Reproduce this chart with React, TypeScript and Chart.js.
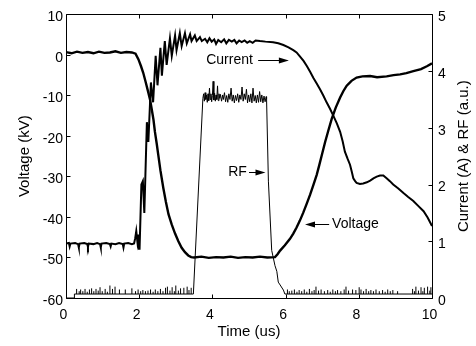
import React, { useEffect, useRef } from "react";
import { Chart, registerables } from "chart.js";

Chart.register(...registerables);

// ---------- tick labels ----------
const X_TICKS = [0, 2, 4, 6, 8, 10];
const VOLT_TICKS = [-60, -50, -40, -30, -20, -10, 0, 10];
const CURR_TICKS = [0, 1, 2, 3, 4, 5];

const X_TITLE = "Time (us)";
const LEFT_TITLE = "Voltage (kV)";
const RIGHT_TITLE = "Current (A) & RF (a.u.)";

// ---------- series: [time (us), value] ----------
// Voltage (kV), left axis
const VOLTAGE: [number, number][] = [
  [0, 0.7], [0.15, 0.4], [0.3, 0.8], [0.45, 0.5], [0.6, 0.7], [0.75, 0.4], [0.9, 0.8],
  [1.05, 0.5], [1.2, 0.6], [1.35, 0.9], [1.5, 0.5], [1.65, 0.7], [1.8, 0.6], [1.9, 0.3],
  [1.98, -1.1], [2.05, -2.8], [2.11, -4.4], [2.18, -6.8], [2.25, -9.3], [2.3, -11.2],
  [2.34, -13.3], [2.39, -16.0], [2.43, -19.0], [2.48, -22.0], [2.52, -24.6], [2.58, -28.5],
  [2.66, -32.9], [2.73, -36.3], [2.8, -39.3], [2.89, -41.9], [2.98, -44.1], [3.07, -46.0],
  [3.16, -47.6], [3.25, -48.7], [3.34, -49.5], [3.42, -49.9], [3.5, -50.0], [3.7, -49.8],
  [3.9, -50.1], [4.1, -49.9], [4.3, -50.0], [4.5, -49.8], [4.7, -50.1], [4.9, -49.9],
  [5.1, -50.0], [5.3, -49.8], [5.5, -50.0], [5.71, -49.9], [5.78, -49.2], [5.85, -48.3],
  [5.98, -47.0], [6.12, -45.4], [6.21, -44.1], [6.3, -42.6], [6.39, -40.9], [6.48, -39.0],
  [6.57, -36.9], [6.67, -34.5], [6.76, -32.1], [6.85, -29.6], [6.92, -27.2], [6.99, -24.7],
  [7.08, -21.5], [7.17, -18.6], [7.26, -15.8], [7.37, -13.0], [7.49, -10.5], [7.58, -8.9],
  [7.67, -7.6], [7.8, -6.4], [7.94, -5.6], [8.1, -5.3], [8.31, -5.2], [8.5, -5.5],
  [8.76, -5.3], [8.95, -5.0], [9.13, -4.8], [9.3, -4.5], [9.49, -4.0], [9.7, -3.5],
  [9.86, -2.8], [10, -2.1],
];

// Current (A), right axis
const CURRENT: [number, number][] = [
  [0, 0.96], [0.08, 0.97], [0.1, 0.91], [0.12, 0.96], [0.25, 0.97], [0.33, 0.95], [0.35, 0.89],
  [0.37, 0.96], [0.5, 0.97], [0.58, 0.95], [0.6, 0.9], [0.62, 0.96], [0.75, 0.95], [0.85, 0.97],
  [0.93, 0.95], [0.95, 0.89], [0.97, 0.96], [1.1, 0.97], [1.2, 0.95], [1.22, 0.91], [1.24, 0.96],
  [1.35, 0.95], [1.45, 0.97], [1.55, 0.95], [1.57, 0.89], [1.59, 0.96], [1.7, 0.97], [1.8, 0.95],
  [1.86, 0.96], [1.89, 1.05], [1.92, 1.18], [1.95, 1.0], [1.97, 1.12], [1.99, 0.87], [2.01, 0.87],
  [2.06, 2.0], [2.1, 2.06], [2.14, 1.5], [2.21, 3.1], [2.25, 2.75], [2.32, 3.8], [2.38, 3.45],
  [2.45, 4.27], [2.5, 3.75], [2.58, 4.41], [2.62, 3.92], [2.7, 4.53], [2.75, 4.11], [2.84, 4.58],
  [2.89, 4.27], [2.98, 4.63], [3.02, 4.37], [3.11, 4.67], [3.16, 4.44], [3.25, 4.67], [3.3, 4.49],
  [3.39, 4.65], [3.43, 4.53], [3.52, 4.63], [3.57, 4.53], [3.66, 4.6], [3.71, 4.53],
  [3.8, 4.57], [3.86, 4.51], [3.92, 4.58], [3.98, 4.52], [4.05, 4.56], [4.1, 4.48], [4.16, 4.55],
  [4.24, 4.51], [4.32, 4.56], [4.38, 4.49], [4.45, 4.55], [4.53, 4.52], [4.6, 4.55], [4.66, 4.49],
  [4.73, 4.54], [4.8, 4.51], [4.88, 4.54], [4.95, 4.5], [5.02, 4.53], [5.1, 4.5], [5.18, 4.54],
  [5.3, 4.53], [5.45, 4.52], [5.66, 4.51], [5.8, 4.49], [5.94, 4.46], [6.08, 4.42], [6.21, 4.37],
  [6.3, 4.33], [6.39, 4.26], [6.49, 4.18], [6.58, 4.09], [6.67, 3.99], [6.76, 3.88], [6.85, 3.78],
  [6.94, 3.68], [7.03, 3.57], [7.12, 3.45], [7.21, 3.34], [7.3, 3.22], [7.4, 3.08], [7.49, 2.93],
  [7.56, 2.76], [7.62, 2.58], [7.69, 2.46], [7.76, 2.35], [7.81, 2.22], [7.85, 2.11], [7.9, 2.06],
  [7.94, 2.03], [8.03, 2.01], [8.12, 2.02], [8.22, 2.04], [8.31, 2.07], [8.4, 2.11], [8.49, 2.14],
  [8.58, 2.16], [8.67, 2.16], [8.76, 2.11], [8.85, 2.06], [8.94, 2.0], [9.08, 1.93], [9.22, 1.85],
  [9.35, 1.78], [9.49, 1.71], [9.63, 1.62], [9.77, 1.53], [9.88, 1.42], [10, 1.27],
];

// RF envelope (a.u.), right axis
const RF: [number, number][] = [
  [0, 0], [0.22, 0], [0.23, 0.07], [3.48, 0.07],
  [3.74, 3.52], [3.76, 3.6], [3.78, 3.47], [3.8, 3.62], [3.82, 3.5], [3.84, 3.58], [3.86, 3.45],
  [3.88, 3.6], [3.9, 3.48], [3.92, 3.7], [3.94, 3.5], [3.96, 3.6], [3.98, 3.46], [4.0, 3.57],
  [4.02, 3.82], [4.04, 3.49], [4.06, 3.61], [4.08, 3.47], [4.1, 3.58], [4.12, 3.5], [4.14, 3.74],
  [4.16, 3.48], [4.18, 3.6], [4.2, 3.52], [4.22, 3.59], [4.25, 3.47], [4.28, 3.58], [4.3, 3.5],
  [4.33, 3.62], [4.36, 3.46], [4.39, 3.57], [4.42, 3.45], [4.45, 3.6], [4.48, 3.5], [4.51, 3.7],
  [4.54, 3.47], [4.57, 3.58], [4.6, 3.44], [4.63, 3.57], [4.66, 3.48], [4.69, 3.6], [4.72, 3.45],
  [4.75, 3.58], [4.78, 3.5], [4.81, 3.72], [4.84, 3.47], [4.87, 3.6], [4.9, 3.5], [4.93, 3.68],
  [4.96, 3.44], [4.99, 3.58], [5.02, 3.46], [5.05, 3.6], [5.08, 3.44], [5.11, 3.7], [5.14, 3.47],
  [5.17, 3.57], [5.2, 3.44], [5.23, 3.58], [5.26, 3.45], [5.29, 3.64], [5.32, 3.46], [5.35, 3.58],
  [5.38, 3.44], [5.41, 3.56], [5.44, 3.46], [5.47, 3.55],
  [5.48, 3.5], [5.53, 2.06], [5.62, 0.84], [5.71, 0.57], [5.76, 0.47], [5.8, 0.28], [5.85, 0.23],
  [5.94, 0.14], [5.98, 0.07], [10, 0.07],
];

// RF baseline noise spikes: [time, peak]
const RF_BASE = 0.07;
const RF_SPIKES: [number, number][] = [
  [0.29, 0.16], [0.36, 0.12], [0.4, 0.15], [0.46, 0.12], [0.52, 0.16], [0.58, 0.11], [0.64, 0.15],
  [0.7, 0.17], [0.76, 0.12], [0.82, 0.16], [0.88, 0.13], [0.93, 0.19], [0.99, 0.12], [1.07, 0.16],
  [1.13, 0.11], [1.2, 0.22], [1.27, 0.16], [1.34, 0.2], [1.46, 0.15], [1.62, 0.15], [1.8, 0.17],
  [1.9, 0.12], [1.97, 0.15], [2.04, 0.12], [2.1, 0.14], [2.17, 0.12], [2.24, 0.13], [2.31, 0.15],
  [2.38, 0.11], [2.44, 0.15], [2.51, 0.12], [2.58, 0.16], [2.65, 0.12], [2.72, 0.18], [2.77, 0.2],
  [2.84, 0.13], [2.9, 0.19], [2.96, 0.12], [3.0, 0.22], [3.07, 0.13], [3.13, 0.17], [3.22, 0.18],
  [3.31, 0.2], [3.36, 0.14], [3.42, 0.18],
  [6.05, 0.15], [6.1, 0.12], [6.17, 0.13], [6.24, 0.15], [6.31, 0.11], [6.37, 0.14], [6.44, 0.12],
  [6.51, 0.15], [6.58, 0.11], [6.65, 0.16], [6.72, 0.12], [6.78, 0.14], [6.83, 0.2], [6.9, 0.13],
  [6.97, 0.15], [7.06, 0.12], [7.15, 0.14], [7.22, 0.11], [7.29, 0.15], [7.36, 0.12], [7.42, 0.14],
  [7.51, 0.12], [7.6, 0.15], [7.65, 0.2], [7.72, 0.13], [7.83, 0.15], [7.92, 0.14], [8.01, 0.19],
  [8.06, 0.15], [8.13, 0.12], [8.2, 0.16], [8.27, 0.12], [8.33, 0.14], [8.4, 0.12], [8.47, 0.15],
  [8.56, 0.12], [8.65, 0.14], [8.72, 0.11], [8.79, 0.15], [8.86, 0.12], [8.93, 0.14], [9.06, 0.12],
  [9.47, 0.16], [9.52, 0.12], [9.56, 0.2], [9.63, 0.13], [9.7, 0.19], [9.75, 0.12], [9.79, 0.18],
  [9.88, 0.2], [9.94, 0.13], [9.97, 0.19],
];

// Annotations: label anchor (time, kV) and arrow (from time -> to time)
const NOTES = [
  { text: "Current", t: 3.83, v: -1.2, from: 5.25, to: 6.09 },
  { text: "RF", t: 4.43, v: -28.8, from: 5.0, to: 5.45 },
  { text: "Voltage", t: 7.27, v: -41.7, from: 7.19, to: 6.53 },
];

const FONT = '"Liberation Sans", Arial, Helvetica, sans-serif';

const overlayPlugin = {
  id: "overlay",
  afterDraw(chart: any) {
    const ctx: CanvasRenderingContext2D = chart.ctx;
    const { left, right, top, bottom } = chart.chartArea;
    const xs = chart.scales.x;
    const yl = chart.scales.y;
    const yr = chart.scales.y2;
    ctx.save();
    ctx.strokeStyle = "#000";
    ctx.fillStyle = "#000";
    ctx.lineWidth = 1;
    const L = Math.round(left) + 0.5;
    const R = Math.round(right) + 0.5;
    const T = Math.round(top) + 0.5;
    const B = Math.round(bottom) + 0.5;
    ctx.beginPath();
    ctx.rect(L, T, R - L, B - T);
    ctx.stroke();
    const tl = 4;
    ctx.beginPath();
    X_TICKS.forEach((v) => {
      const p = Math.round(xs.getPixelForValue(v)) + 0.5;
      ctx.moveTo(p, B);
      ctx.lineTo(p, B - tl);
      ctx.moveTo(p, T);
      ctx.lineTo(p, T + tl);
    });
    VOLT_TICKS.forEach((v) => {
      const p = Math.round(yl.getPixelForValue(v)) + 0.5;
      ctx.moveTo(L, p);
      ctx.lineTo(L + tl, p);
    });
    CURR_TICKS.forEach((v) => {
      const p = Math.round(yr.getPixelForValue(v)) + 0.5;
      ctx.moveTo(R, p);
      ctx.lineTo(R - tl, p);
    });
    ctx.stroke();

    // annotations
    ctx.font = `14px ${FONT}`;
    ctx.textBaseline = "middle";
    ctx.textAlign = "left";
    NOTES.forEach((n) => {
      const y = Math.round(yl.getPixelForValue(n.v)) + 0.5;
      ctx.fillText(n.text, xs.getPixelForValue(n.t), y);
      const x0 = xs.getPixelForValue(n.from);
      const x1 = xs.getPixelForValue(n.to);
      const dir = Math.sign(x1 - x0);
      ctx.beginPath();
      ctx.moveTo(x0, y);
      ctx.lineTo(x1 - dir * 6, y);
      ctx.stroke();
      ctx.beginPath();
      ctx.moveTo(x1, y);
      ctx.lineTo(x1 - dir * 10, y - 3);
      ctx.lineTo(x1 - dir * 10, y + 3);
      ctx.closePath();
      ctx.fill();
    });

    // axis titles
    ctx.font = `15px ${FONT}`;
    ctx.textAlign = "center";
    ctx.textBaseline = "middle";
    const midY = (top + bottom) / 2;
    ctx.save();
    ctx.translate(25, midY);
    ctx.rotate(-Math.PI / 2);
    ctx.fillText(LEFT_TITLE, 0, 0);
    ctx.restore();
    ctx.save();
    ctx.translate(463.5, midY);
    ctx.rotate(-Math.PI / 2);
    ctx.fillText(RIGHT_TITLE, 0, 0);
    ctx.restore();
    ctx.fillText(X_TITLE, (left + right) / 2, 332);
    ctx.restore();
  },
};

const toXY = (arr: [number, number][]) => arr.map(([x, y]) => ({ x, y }));

export default function App() {
  const ref = useRef<HTMLCanvasElement | null>(null);
  useEffect(() => {
    if (!ref.current) return;
    const spikeData: any[] = [];
    RF_SPIKES.forEach(([t, v]) => {
      spikeData.push({ x: t, y: RF_BASE }, { x: t, y: v }, { x: t, y: null });
    });
    const tickFont = { family: FONT, size: 14 };
    const chart = new Chart(ref.current, {
      type: "scatter",
      data: {
        datasets: [
          {
            label: "Voltage",
            data: toXY(VOLTAGE),
            yAxisID: "y",
            showLine: true,
            borderColor: "#000",
            borderWidth: 2.4,
            pointRadius: 0,
            tension: 0,
          },
          {
            label: "Current",
            data: toXY(CURRENT),
            yAxisID: "y2",
            showLine: true,
            borderColor: "#000",
            borderWidth: 2,
            pointRadius: 0,
            tension: 0,
          },
          {
            label: "RF",
            data: toXY(RF),
            yAxisID: "y2",
            showLine: true,
            borderColor: "#000",
            borderWidth: 1,
            pointRadius: 0,
            tension: 0,
          },
          {
            label: "RF noise",
            data: spikeData,
            yAxisID: "y2",
            showLine: true,
            spanGaps: false,
            borderColor: "#000",
            borderWidth: 1,
            pointRadius: 0,
          },
        ],
      },
      options: {
        animation: false,
        responsive: false,
        devicePixelRatio: 1,
        layout: { padding: { top: 11, left: 0, right: 0, bottom: 0 } },
        plugins: { legend: { display: false }, tooltip: { enabled: false } },
        scales: {
          x: {
            type: "linear",
            min: 0,
            max: 10,
            afterBuildTicks: (s: any) => {
              s.ticks = X_TICKS.map((v) => ({ value: v }));
            },
            afterFit: (s: any) => {
              s.height = 48;
            },
            grid: { display: false, drawTicks: false },
            border: { display: false },
            ticks: { font: tickFont, color: "#000", padding: 9, labelOffset: -2.5, maxRotation: 0, autoSkip: false },
          },
          y: {
            type: "linear",
            position: "left",
            min: -60,
            max: 10,
            afterBuildTicks: (s: any) => {
              s.ticks = VOLT_TICKS.map((v) => ({ value: v }));
            },
            afterFit: (s: any) => {
              s.width = 66;
            },
            grid: { display: false, drawTicks: false },
            border: { display: false },
            ticks: { font: tickFont, color: "#000", padding: 3, labelOffset: 3, autoSkip: false },
          },
          y2: {
            type: "linear",
            position: "right",
            min: 0,
            max: 5,
            afterBuildTicks: (s: any) => {
              s.ticks = CURR_TICKS.map((v) => ({ value: v }));
            },
            afterFit: (s: any) => {
              s.width = 44;
            },
            grid: { display: false, drawTicks: false },
            border: { display: false },
            ticks: { font: tickFont, color: "#000", padding: 6, labelOffset: 3, autoSkip: false },
          },
        },
      },
      plugins: [overlayPlugin],
    } as any);
    return () => chart.destroy();
  }, []);
  return (
    <div style={{ position: "absolute", left: 0, top: 0, width: 476, height: 346, background: "#fff" }}>
      <canvas ref={ref} width={476} height={346} style={{ display: "block", width: 476, height: 346 }} />
    </div>
  );
}
